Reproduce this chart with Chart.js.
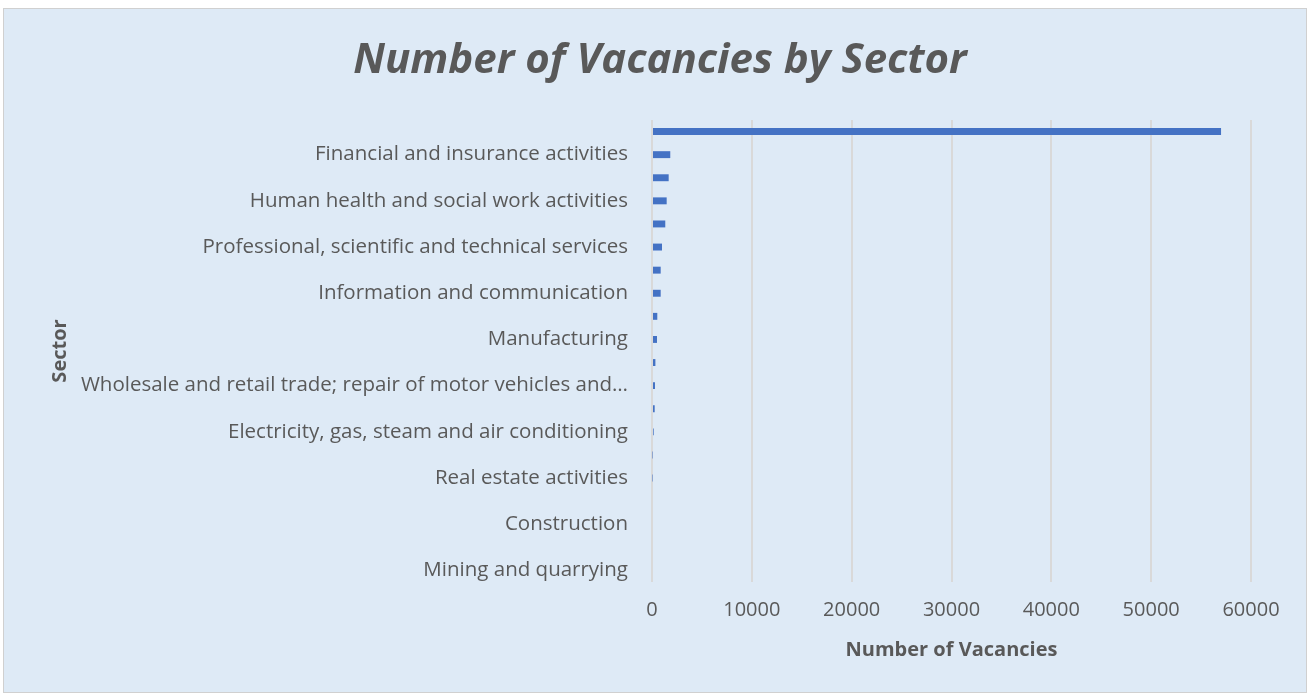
<!DOCTYPE html>
<html>
<head>
<meta charset="utf-8">
<script src="https://cdn.jsdelivr.net/npm/chart.js@4"></script>
<style>
html,body{margin:0;padding:0;background:#ffffff;}
#panel{position:absolute;left:3px;top:8px;width:1304px;height:685px;background:#DEEAF6;border:1px solid #D0D0D0;box-sizing:border-box;}
canvas{display:block;}
</style>
</head>
<body>
<div id="panel"><canvas id="c" width="1302" height="683"></canvas></div>
<script>
const categories = [
  "Unknown",
  "Financial and insurance activities",
  "Administrative and support service activities",
  "Human health and social work activities",
  "Education",
  "Professional, scientific and technical services",
  "Public administration and defence",
  "Information and communication",
  "Transportation and storage",
  "Manufacturing",
  "Accommodation and food service activities",
  "Wholesale and retail trade; repair of motor vehicles and motorcycles",
  "Other service activities",
  "Electricity, gas, steam and air conditioning",
  "Arts, entertainment and recreation",
  "Real estate activities",
  "Water supply; sewerage and waste management",
  "Construction",
  "Agriculture, forestry and fishing",
  "Mining and quarrying"
];
const vacancies = [57000, 1830, 1670, 1470, 1330, 1000, 870, 870, 530, 500, 340, 300, 270, 170, 50, 50, 0, 0, 0, 0];
const xTicks = [0, 10000, 20000, 30000, 40000, 50000, 60000];
const titleText = "Number of Vacancies by Sector";
const xTitle = "Number of Vacancies";
const yTitle = "Sector";

const grey = "#595959";

const titlePlugin = {
  id: "centeredTitle",
  afterDraw(chart) {
    const ctx = chart.ctx;
    ctx.save();
    ctx.fillStyle = grey;
    ctx.font = "italic bold 42px 'Open Sans'";
    ctx.textAlign = "center";
    ctx.textBaseline = "middle";
    ctx.fillText(titleText, 656, 52);
    ctx.restore();
  }
};

new Chart(document.getElementById("c"), {
  type: "bar",
  data: {
    labels: categories,
    datasets: [{
      data: vacancies,
      backgroundColor: "#4472C4",
      borderWidth: 0,
      barPercentage: 0.6,
      categoryPercentage: 0.5
    }]
  },
  plugins: [titlePlugin],
  options: {
    indexAxis: "y",
    responsive: false,
    animation: false,
    layout: { padding: { left: 40, right: 55, top: 111, bottom: 26 } },
    plugins: {
      legend: { display: false },
      tooltip: { enabled: false },
      title: { display: false }
    },
    scales: {
      x: {
        min: 0, max: 60000,
        afterBuildTicks: (s) => { s.ticks = xTicks.map(v => ({ value: v })); },
        grid: { color: "#D9D9D9", lineWidth: 2, drawTicks: false },
        border: { display: false },
        ticks: {
          color: grey, font: { family: "Open Sans", size: 20 }, padding: 16, maxRotation: 0,
          callback: (v) => String(v)
        },
        title: { display: true, text: xTitle, color: grey, font: { family: "Open Sans", size: 20, weight: "bold" }, padding: { top: 0 } }
      },
      y: {
        grid: { display: false },
        border: { display: false },
        afterFit: (s) => { s.width = 608; },
        ticks: {
          autoSkip: false,
          color: grey,
          font: { family: "Open Sans", size: 20.5 },
          padding: 16,
          callback: function (v, i) {
            if (i % 2 === 0) return "";
            let t = categories[i];
            if (t.length > 56) t = t.slice(0, 56) + "…";
            return t;
          }
        },
        title: { display: true, text: yTitle, color: grey, font: { family: "Open Sans", size: 20, weight: "bold" }, padding: { bottom: 0 } }
      }
    }
  }
});
</script>
</body>
</html>
